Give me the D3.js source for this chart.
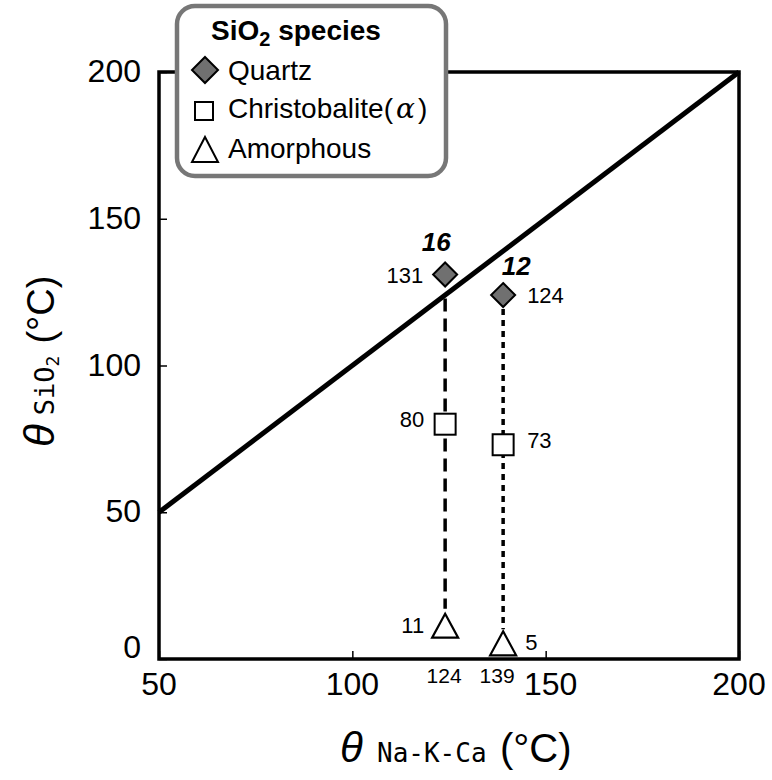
<!DOCTYPE html>
<html><head><meta charset="utf-8">
<script src="https://cdn.jsdelivr.net/npm/d3@7"></script>
<style>body{margin:0;background:#fff}svg{display:block}</style>
</head><body>
<svg id="c" width="772" height="780"></svg>
<script>
const xTicks = [50, 100, 150, 200];
const yTicks = [0, 50, 100, 150, 200];
const sampleIds = ["16", "12"];
const naKCa = [124, 139];
const quartz = [131, 124];
const christobalite = [80, 73];
const amorphous = [11, 5];
const diagonal = [[50, 50], [200, 200]];
const legendItems = ["Quartz", "Christobalite(", "Amorphous"];

const svg = d3.select("#c");
const L = 159, R = 739, T = 72, B = 659;
const x = d3.scaleLinear().domain([50, 200]).range([L, R]);
const y = d3.scaleLinear().domain([0, 200]).range([B, T]);
const font = "Liberation Sans, Arial, sans-serif";
const mono = "DejaVu Sans Mono, Liberation Mono, monospace";

// inward ticks
const xAxis = d3.axisTop(x).tickValues(xTicks).tickSize(8).tickFormat("");
svg.append("g").attr("transform", `translate(0,${B})`).call(xAxis)
  .call(g => { g.select(".domain").remove(); g.selectAll("line").attr("stroke", "#000").attr("stroke-width", 1.5); });
const yAxis = d3.axisRight(y).tickValues(yTicks).tickSize(8).tickFormat("");
svg.append("g").attr("transform", `translate(${L},0)`).call(yAxis)
  .call(g => { g.select(".domain").remove(); g.selectAll("line").attr("stroke", "#000").attr("stroke-width", 1.5); });

// frame
svg.append("rect").attr("x", L).attr("y", T).attr("width", R - L).attr("height", B - T)
  .attr("fill", "none").attr("stroke", "#000").attr("stroke-width", 3.5);

// diagonal
svg.append("line").attr("x1", x(diagonal[0][0])).attr("y1", y(diagonal[0][1]))
  .attr("x2", x(diagonal[1][0])).attr("y2", y(diagonal[1][1]))
  .attr("stroke", "#000").attr("stroke-width", 5);

// tick labels
const xShift = {150: 5};
svg.selectAll(".xl").data(xTicks).join("text").attr("x", d => x(d) + (xShift[d] || 0)).attr("y", 695)
  .attr("text-anchor", "middle").attr("font-family", font).attr("font-size", 32).text(d => d);
svg.selectAll(".yl").data(yTicks).join("text").attr("x", 141).attr("y", d => d === 0 ? y(d) - 1 : y(d) + 10)
  .attr("text-anchor", "end").attr("font-family", font).attr("font-size", 32).text(d => d);
const smallShift = [-1, -6];
svg.selectAll(".xs").data(naKCa).join("text").attr("x", (d, i) => x(d) + smallShift[i]).attr("y", 683)
  .attr("text-anchor", "middle").attr("font-family", font).attr("font-size", 21).text(d => d);

// vertical connectors
const dashes = ["13,7", "6,5"];
const endGap = [[24, 18], [14, 15]];
naKCa.forEach((xv, i) => {
  svg.append("line").attr("x1", x(xv)).attr("x2", x(xv))
    .attr("y1", y(quartz[i]) + endGap[i][0]).attr("y2", y(amorphous[i]) - endGap[i][1])
    .attr("stroke", "#000").attr("stroke-width", 3.5).attr("stroke-dasharray", dashes[i]);
});

// markers
const sq = 21;
naKCa.forEach((xv, i) => {
  const cx = x(xv);
  svg.append("rect").attr("x", cx - sq / 2).attr("y", y(christobalite[i]) - sq / 2)
    .attr("width", sq).attr("height", sq).attr("fill", "#fff").attr("stroke", "#000").attr("stroke-width", 2);
  const ty = y(amorphous[i]);
  svg.append("path").attr("d", `M${cx},${ty - 13} L${cx + 13},${ty + 11} L${cx - 13},${ty + 11} Z`)
    .attr("fill", "#fff").attr("stroke", "#000").attr("stroke-width", 2.2);
  const dy = y(quartz[i]);
  svg.append("path").attr("d", `M${cx},${dy - 12} L${cx + 12},${dy} L${cx},${dy + 12} L${cx - 12},${dy} Z`)
    .attr("fill", "#707070").attr("stroke", "#000").attr("stroke-width", 2);
});

// value labels
const valSize = 22;
function lab(xp, yp, t, anchor) {
  svg.append("text").attr("x", xp).attr("y", yp).attr("text-anchor", anchor || "start")
    .attr("font-family", font).attr("font-size", valSize).text(t);
}
lab(x(naKCa[0]) - 22, y(quartz[0]) + 8, quartz[0], "end");
lab(x(naKCa[0]) - 21, y(christobalite[0]) + 3, christobalite[0], "end");
lab(x(naKCa[0]) - 21, y(amorphous[0]) + 6, amorphous[0], "end");
lab(x(naKCa[1]) + 24, y(quartz[1]) + 8, quartz[1]);
lab(x(naKCa[1]) + 24, y(christobalite[1]) + 3, christobalite[1]);
lab(x(naKCa[1]) + 22, y(amorphous[1]) + 6, amorphous[1]);
// sample ids
svg.append("text").attr("x", x(naKCa[0]) - 9).attr("y", y(quartz[0]) - 24).attr("text-anchor", "middle")
  .attr("font-family", font).attr("font-size", 26).attr("font-weight", "bold").attr("font-style", "italic").text(sampleIds[0]);
svg.append("text").attr("x", x(naKCa[1]) + 13).attr("y", y(quartz[1]) - 20).attr("text-anchor", "middle")
  .attr("font-family", font).attr("font-size", 26).attr("font-weight", "bold").attr("font-style", "italic").text(sampleIds[1]);

// axis titles
const xt = svg.append("text").attr("x", 340).attr("y", 762).attr("font-family", font);
xt.append("tspan").attr("font-size", 42).attr("font-style", "italic").text("θ");
xt.append("tspan").attr("font-size", 26).attr("font-family", mono).attr("x", 377).text("Na-K-Ca");
xt.append("tspan").attr("font-size", 40).attr("x", 500).text("(°C)");

const yt = svg.append("text").attr("transform", "translate(54,447) rotate(-90)").attr("font-family", font);
yt.append("tspan").attr("font-size", 42).attr("font-style", "italic").text("θ");
yt.append("tspan").attr("font-size", 27).attr("font-family", mono).attr("dx", 9).text("SiO");
yt.append("tspan").attr("font-size", 18).attr("font-family", mono).attr("dy", 5).text("2");
yt.append("tspan").attr("font-size", 38).attr("dx", 12).attr("dy", -5).text("(°C)");

// legend
const lg = svg.append("g");
lg.append("rect").attr("x", 177).attr("y", 6).attr("width", 269).attr("height", 170).attr("rx", 18)
  .attr("fill", "#fff").attr("stroke", "#777").attr("stroke-width", 4.5);
const lt = lg.append("text").attr("x", 211).attr("y", 40)
  .attr("font-family", font).attr("font-size", 28).attr("font-weight", "bold");
lt.append("tspan").text("SiO");
lt.append("tspan").attr("font-size", 20).attr("dy", 6).text("2");
lt.append("tspan").attr("dy", -6).text(" species");
const ly = [70, 110, 150];
lg.append("path").attr("d", `M205,${ly[0] - 13} L218,${ly[0]} L205,${ly[0] + 13} L192,${ly[0]} Z`)
  .attr("fill", "#707070").attr("stroke", "#000").attr("stroke-width", 2);
lg.append("rect").attr("x", 195).attr("y", ly[1] - 8).attr("width", 18).attr("height", 18)
  .attr("fill", "#fff").attr("stroke", "#000").attr("stroke-width", 2);
lg.append("path").attr("d", `M205,${ly[2] - 13} L218,${ly[2] + 12} L192,${ly[2] + 12} Z`)
  .attr("fill", "#fff").attr("stroke", "#000").attr("stroke-width", 2);
const lb = [80, 118, 158];
legendItems.forEach((t, i) => {
  const tx = lg.append("text").attr("x", 228).attr("y", lb[i]).attr("font-family", font).attr("font-size", 28);
  tx.append("tspan").text(t);
  if (i === 1) {
    tx.append("tspan").attr("font-style", "italic").attr("font-family", "DejaVu Serif, serif").attr("dx", 3).text("α");
    tx.append("tspan").attr("dx", 3).text(")");
  }
});
</script>
</body></html>
